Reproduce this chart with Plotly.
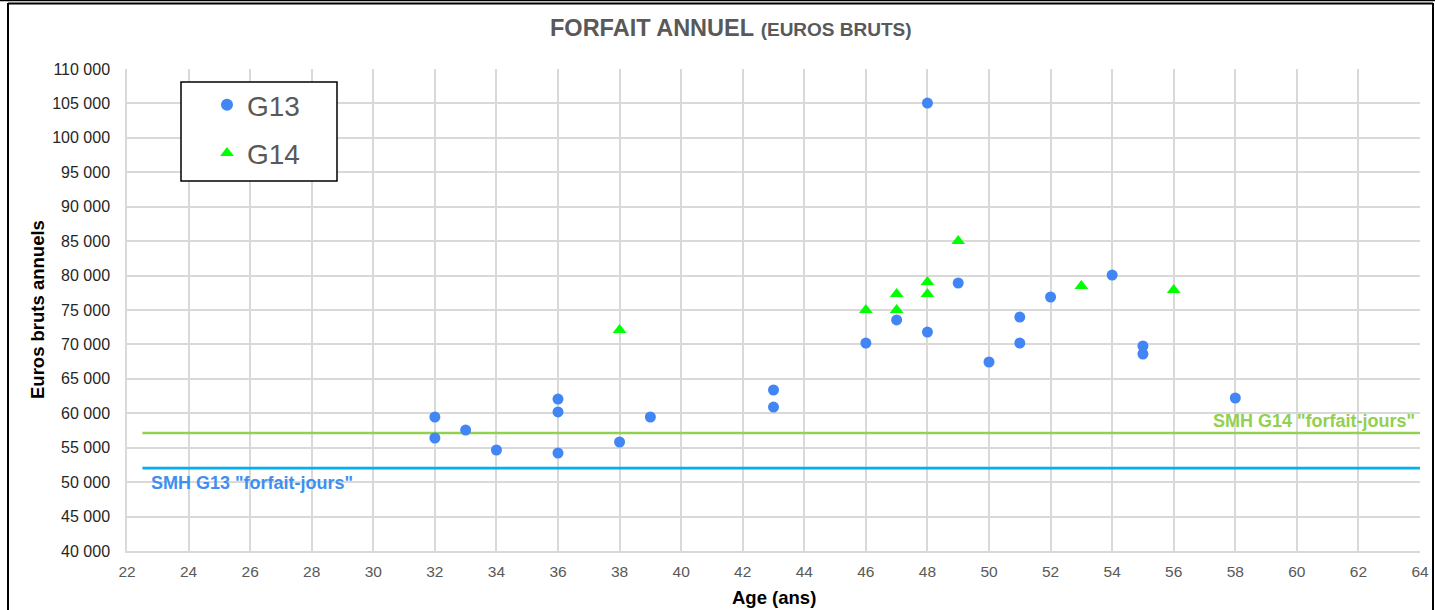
import plotly.graph_objects as go

# Data
g13_age = [32, 32, 33, 34, 36, 36, 36, 38, 39, 43, 43, 46, 47, 48, 48, 49, 50, 51, 51, 52, 54, 55, 55, 58]
g13_val = [59460, 56410, 57570, 54670, 62070, 60190, 54230, 55830, 59460, 63380, 60910, 70200, 73550,
           105060, 71800, 78920, 67450, 73980, 70200, 76890, 80080, 69770, 68610, 62220]
g14_age = [38, 46, 47, 47, 48, 48, 49, 53, 56]
g14_val = [72090, 75000, 77320, 75000, 79060, 77320, 85020, 78480, 77900]
smh_age = [22.5, 64]
smh_g13 = [52050, 52050]
smh_g14 = [57140, 57140]
x_ticks = list(range(22, 65, 2))
y_ticks = list(range(40000, 110001, 5000))
y_labels = [f"{v:,}".replace(",", " ") for v in y_ticks]

W, H = 1435, 610
L, R, T, B = 127, 15, 69, 59
pw, ph = W - L - R, H - T - B

def px2x(px):
    return (px - L) / pw

def py2y(py):
    return (H - B - py) / ph

FONT = "Arial, Liberation Sans, sans-serif"

fig = go.Figure()
fig.add_trace(go.Scatter(x=smh_age, y=smh_g14, mode="lines", line=dict(color="#92D050", width=2.7),
                         showlegend=False, hoverinfo="skip"))
fig.add_trace(go.Scatter(x=smh_age, y=smh_g13, mode="lines", line=dict(color="#00B0F0", width=2.7),
                         showlegend=False, hoverinfo="skip"))
fig.add_trace(go.Scatter(x=g13_age, y=g13_val, mode="markers", name="G13", legendgroup="a",
                         marker=dict(symbol="circle", size=11, color="#4285F4")))
fig.add_trace(go.Scatter(x=g14_age, y=g14_val, mode="markers", name="G14", legendgroup="b",
                         marker=dict(symbol="triangle-up", size=12, color="#00FF00")))

fig.update_layout(
    width=W, height=H,
    margin=dict(l=L, r=R, t=T, b=B, autoexpand=False),
    paper_bgcolor="white", plot_bgcolor="white",
    font=dict(family=FONT, color="#404040"),
    legend=dict(x=px2x(207), y=py2y(80), xanchor="left", yanchor="top",
                borderwidth=0, bgcolor="rgba(0,0,0,0)", traceorder="grouped",
                font=dict(size=28, color="#595959", family=FONT), itemsizing="constant",
                tracegroupgap=9),
    xaxis=dict(range=[22, 64], tickmode="array", tickvals=x_ticks, automargin=False,
               showgrid=True, gridcolor="#D9D9D9", gridwidth=1.5,
               showline=True, linecolor="#D9D9D9", linewidth=1.5, zeroline=False,
               tickfont=dict(size=15.5, color="#595959"), ticks="", ticklabelstandoff=6),
    yaxis=dict(range=[40000, 110000], tickmode="array", tickvals=y_ticks, ticktext=y_labels,
               automargin=False,
               showgrid=True, gridcolor="#D9D9D9", gridwidth=1.5,
               showline=True, linecolor="#D9D9D9", linewidth=1.5, zeroline=False,
               tickfont=dict(size=16, color="#262626"), ticks="", ticklabelstandoff=12),
    annotations=[
        dict(text="<b>FORFAIT ANNUEL</b> <b><span style='font-size:19px'>(EUROS BRUTS)</span></b>",
             x=px2x(731), y=py2y(28), xref="paper", yref="paper", showarrow=False,
             font=dict(size=23.5, color="#595959"), xanchor="center", yanchor="middle"),
        dict(text="<b>Euros bruts annuels</b>", x=px2x(37), y=py2y(310), xref="paper", yref="paper",
             showarrow=False, textangle=-90, font=dict(size=18.5, color="black"),
             xanchor="center", yanchor="middle"),
        dict(text="<b>Age (ans)</b>", x=px2x(774), y=py2y(597), xref="paper", yref="paper",
             showarrow=False, font=dict(size=18.5, color="black"), xanchor="center", yanchor="middle"),
        dict(text='<b>SMH G14 "forfait-jours"</b>', x=px2x(1417), y=py2y(421), xref="paper", yref="paper",
             showarrow=False, font=dict(size=18, color="#92D050"), xanchor="right", yanchor="middle"),
        dict(text='<b>SMH G13 "forfait-jours"</b>', x=px2x(149), y=py2y(483), xref="paper", yref="paper",
             showarrow=False, font=dict(size=18, color="#3F8FF0"), xanchor="left", yanchor="middle"),
    ],
    shapes=[
        dict(type="rect", xref="paper", yref="paper", x0=px2x(181), x1=px2x(337), y0=py2y(82), y1=py2y(181),
             line=dict(color="black", width=1.5), fillcolor="white", layer="above"),
        dict(type="line", xref="paper", yref="paper", x0=px2x(8), x1=px2x(8), y0=py2y(3), y1=py2y(615),
             line=dict(color="black", width=2)),
        dict(type="line", xref="paper", yref="paper", x0=px2x(8), x1=px2x(1433), y0=py2y(3.5), y1=py2y(3.5),
             line=dict(color="black", width=2)),
        dict(type="line", xref="paper", yref="paper", x0=px2x(0), x1=px2x(1435), y0=py2y(0.5), y1=py2y(0.5),
             line=dict(color="black", width=1.5)),
        dict(type="line", xref="paper", yref="paper", x0=px2x(1433), x1=px2x(1433), y0=py2y(3), y1=py2y(615),
             line=dict(color="black", width=2)),
    ],
)

fig.write_html("out.html", config={"displayModeBar": False},
               post_script="document.body.style.margin='0';")
